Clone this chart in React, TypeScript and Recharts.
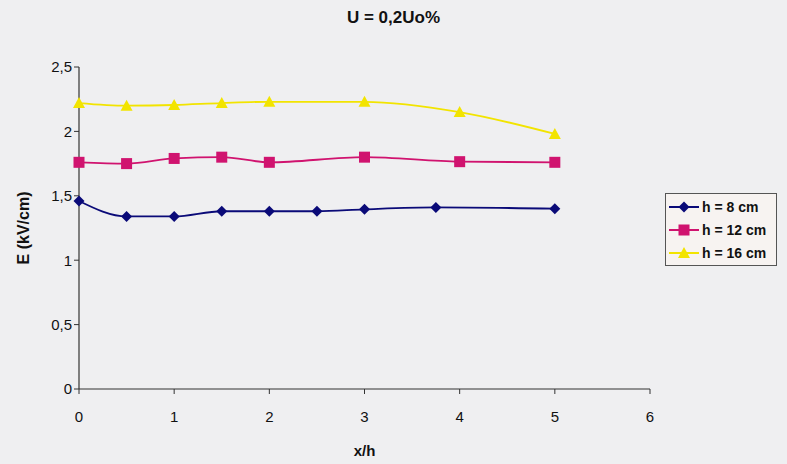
import { Line, LineChart, XAxis, YAxis } from 'recharts';

// x positions are x/h, values in kV/cm.
const H8_X = [0, 0.5, 1, 1.5, 2, 2.5, 3, 3.75, 5];
const H8_E = [1.46, 1.34, 1.34, 1.38, 1.38, 1.38, 1.395, 1.41, 1.4];

const H12_X = [0, 0.5, 1, 1.5, 2, 3, 4, 5];
const H12_E = [1.76, 1.75, 1.79, 1.8, 1.76, 1.8, 1.765, 1.76];

const H16_X = [0, 0.5, 1, 1.5, 2, 3, 4, 5];
const H16_E = [2.22, 2.2, 2.205, 2.22, 2.23, 2.23, 2.15, 1.98];

const X_TICKS = [0, 1, 2, 3, 4, 5, 6];
const Y_TICKS = [0, 0.5, 1, 1.5, 2, 2.5];

const NAVY = '#0a0a78';
const MAGENTA = '#d0136f';
const YELLOW = '#f2e400';
const FONT = '"Liberation Sans", Arial, sans-serif';

const toPoints = (xs: number[], ys: number[]) => xs.map((x, i) => ({ x, e: ys[i] }));

const SERIES = [
  { name: 'h = 8 cm', data: toPoints(H8_X, H8_E), color: NAVY, shape: 'diamond' },
  { name: 'h = 12 cm', data: toPoints(H12_X, H12_E), color: MAGENTA, shape: 'square' },
  { name: 'h = 16 cm', data: toPoints(H16_X, H16_E), color: YELLOW, shape: 'triangle' },
];

function Marker({ cx, cy, shape, color }: { cx: number; cy: number; shape: string; color: string }) {
  if (shape === 'diamond') {
    const r = 5.5;
    return <polygon points={`${cx},${cy - r} ${cx + r},${cy} ${cx},${cy + r} ${cx - r},${cy}`} fill={color} />;
  }
  if (shape === 'square') {
    return <rect x={cx - 5.5} y={cy - 5.5} width={11} height={11} fill={color} />;
  }
  return <polygon points={`${cx},${cy - 6} ${cx + 6},${cy + 5} ${cx - 6},${cy + 5}`} fill={color} />;
}

function LegendBox() {
  return (
    <div
      style={{
        position: 'absolute',
        top: 193,
        left: 665,
        border: '1.5px solid #555',
        background: '#f7f3f1',
        padding: '1px 4px 1px 3px',
        fontFamily: FONT,
        fontSize: 14,
        fontWeight: 'bold',
        color: '#111',
        width: 112,
        boxSizing: 'border-box',
      }}
    >
      {SERIES.map((s) => (
        <div key={s.name} style={{ display: 'flex', alignItems: 'center', height: 23 }}>
          <svg width={30} height={14} style={{ marginRight: 3 }}>
            <line x1={0} y1={7} x2={30} y2={7} stroke={s.color} strokeWidth={2} />
            <Marker cx={15} cy={7} shape={s.shape} color={s.color} />
          </svg>
          <span style={{ whiteSpace: 'nowrap' }}>{s.name}</span>
        </div>
      ))}
    </div>
  );
}

const fmt = (v: number) => String(v).replace('.', ',');

export default function App() {
  return (
    <div style={{ position: 'absolute', left: 0, top: 0, width: 787, height: 464, background: '#efeff1' }}>
      <div
        style={{
          position: 'absolute',
          top: 8,
          left: 0,
          width: 787,
          textAlign: 'center',
          fontFamily: FONT,
          fontWeight: 'bold',
          fontSize: 17,
          color: '#111',
        }}
      >
        U = 0,2Uo%
      </div>
      <LineChart width={787} height={464} margin={{ top: 67, right: 137, left: 29, bottom: 0 }}>
        <XAxis
          type="number"
          dataKey="x"
          domain={[0, 6]}
          ticks={X_TICKS}
          tick={{ fill: '#111', fontSize: 15, fontFamily: FONT }}
          axisLine={{ stroke: '#333', strokeWidth: 1.2 }}
          tickLine={{ stroke: '#333' }}
          tickSize={5}
          tickMargin={17}
          height={75}
          label={{ value: 'x/h', position: 'insideBottom', offset: 8, fill: '#111', fontSize: 15, fontWeight: 'bold', fontFamily: FONT }}
        />
        <YAxis
          type="number"
          domain={[0, 2.5]}
          ticks={Y_TICKS}
          tickFormatter={fmt}
          tick={{ fill: '#111', fontSize: 15, fontFamily: FONT }}
          axisLine={{ stroke: '#333', strokeWidth: 1.2 }}
          tickLine={{ stroke: '#333' }}
          tickSize={5}
          width={50}
          label={{ value: 'E (kV/cm)', angle: -90, position: 'insideLeft', offset: -6, fill: '#111', fontSize: 16, fontWeight: 'bold', fontFamily: FONT, style: { textAnchor: 'middle' } }}
        />
        {SERIES.map((s) => (
          <Line
            key={s.name}
            data={s.data}
            dataKey="e"
            name={s.name}
            type="monotone"
            stroke={s.color}
            strokeWidth={1.8}
            dot={(p: any) => <Marker key={`${s.name}-${p.index}`} cx={p.cx} cy={p.cy} shape={s.shape} color={s.color} />}
            activeDot={false}
            isAnimationActive={false}
          />
        ))}
      </LineChart>
      <LegendBox />
    </div>
  );
}
